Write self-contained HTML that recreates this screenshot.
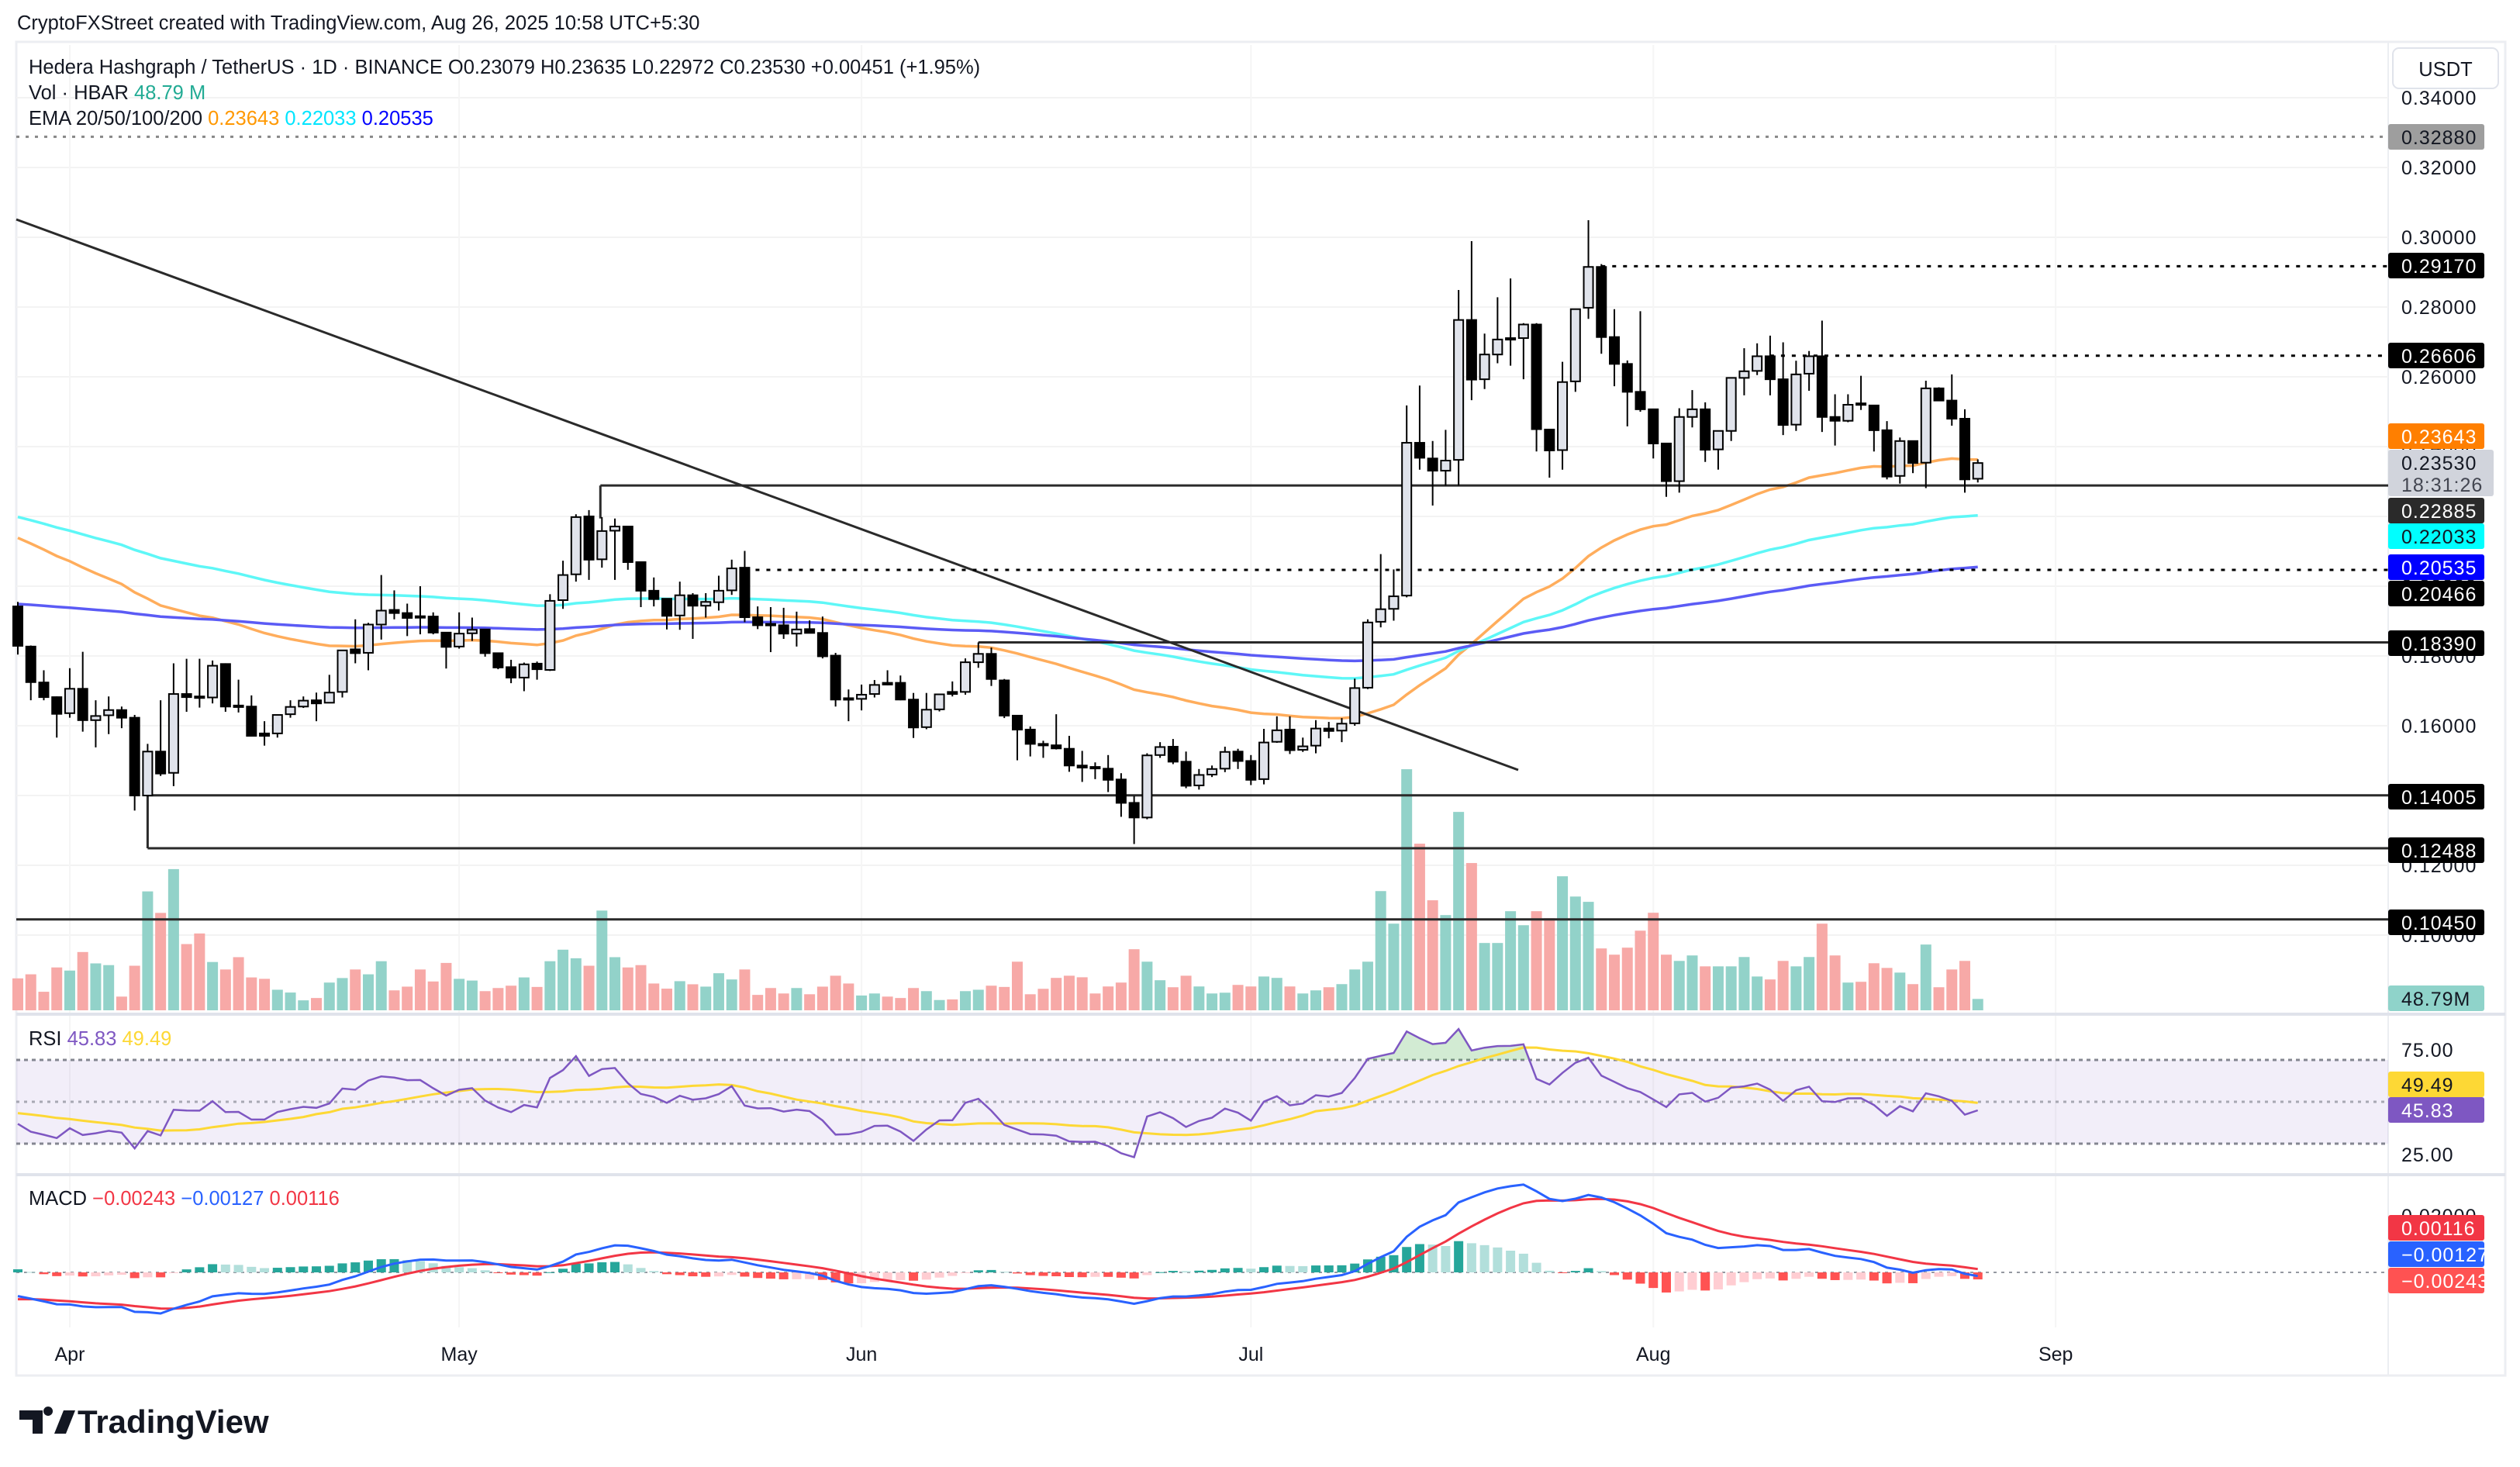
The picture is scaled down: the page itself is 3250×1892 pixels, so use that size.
<!DOCTYPE html>
<html><head><meta charset="utf-8"><title>HBAR/USDT chart</title>
<style>
html,body{margin:0;padding:0;background:#fff;}
svg{display:block;font-family:"Liberation Sans",sans-serif;}
.t{fill:#131722;font-size:25.5px;}
.ax{fill:#131722;font-size:25px;letter-spacing:1px;}
</style></head>
<body>
<svg id="chart" xmlns="http://www.w3.org/2000/svg" width="3250" height="1892" viewBox="0 0 3250 1892">
<rect x="0" y="0" width="3250" height="1892" fill="#ffffff"/>
<text x="22" y="38" class="t">CryptoFXStreet created with TradingView.com, Aug 26, 2025 10:58 UTC+5:30</text>
<rect x="21" y="54" width="3210" height="1720" fill="none" stroke="#eceef2" stroke-width="3"/>
<line x1="3080" y1="54" x2="3080" y2="1774" stroke="#eceef2" stroke-width="2"/>
<g id="grid"></g>
<g id="vol"></g>
<g id="ema"></g>
<g id="draw"></g>
<g id="candles"></g>
<g id="rsi"></g>
<g id="macd"></g>
<line x1="21" y1="1308" x2="3231" y2="1308" stroke="#e0e3eb" stroke-width="4"/>
<line x1="21" y1="1515" x2="3231" y2="1515" stroke="#e0e3eb" stroke-width="4"/>
<g id="axis"></g>
<g id="time"></g>

<g>
<text x="37" y="95" class="t">Hedera Hashgraph / TetherUS · 1D · BINANCE  O0.23079  H0.23635  L0.22972  C0.23530  +0.00451 (+1.95%)</text>
<text x="37" y="128" class="t">Vol · HBAR <tspan fill="#22ab94">48.79 M</tspan></text>
<text x="37" y="161" class="t">EMA 20/50/100/200 <tspan fill="#ff9800">0.23643</tspan> <tspan fill="#00e5ff">0.22033</tspan> <tspan fill="#0000ff">0.20535</tspan></text>
<text x="37" y="1348" class="t">RSI <tspan fill="#7e57c2">45.83</tspan> <tspan fill="#fdd835">49.49</tspan></text>
<text x="37" y="1554" class="t">MACD <tspan fill="#f23645">−0.00243</tspan> <tspan fill="#2962ff">−0.00127</tspan> <tspan fill="#f23645">0.00116</tspan></text>
</g>

<g>
<rect x="3086" y="62" width="136" height="52" rx="8" fill="#fff" stroke="#e0e3eb" stroke-width="2"/>
<text x="3154" y="98" text-anchor="middle" class="t">USDT</text>
</g>

<g id="tags">
<g transform="translate(0,-4)">
<g><rect x="3080" y="164" width="124" height="33" rx="3" fill="#9e9e9e"/><text x="3097" y="190" class="ax">0.32880</text></g>
<g><rect x="3080" y="330" width="124" height="33" rx="3" fill="#000"/><text x="3097" y="356" class="ax" style="fill:#fff">0.29170</text></g>
<g><rect x="3080" y="446" width="124" height="33" rx="3" fill="#000"/><text x="3097" y="472" class="ax" style="fill:#fff">0.26606</text></g>
<g><rect x="3080" y="550" width="124" height="33" rx="3" fill="#ff7f00"/><text x="3097" y="576" class="ax" style="fill:#fff">0.23643</text></g>
<g><rect x="3080" y="584" width="136" height="60" rx="3" fill="#d1d4dc"/><text x="3097" y="610" class="ax">0.23530</text><text x="3097" y="638" class="ax" style="fill:#434651">18:31:26</text></g>
<g><rect x="3080" y="646" width="124" height="33" rx="3" fill="#2a2a2a"/><text x="3097" y="672" class="ax" style="fill:#fff">0.22885</text></g>
<g><rect x="3080" y="679" width="124" height="33" rx="3" fill="#00ffff"/><text x="3097" y="705" class="ax">0.22033</text></g>
<g><rect x="3080" y="719" width="124" height="33" rx="3" fill="#0000ff"/><text x="3097" y="745" class="ax" style="fill:#fff">0.20535</text></g>
<g><rect x="3080" y="753" width="124" height="33" rx="3" fill="#000"/><text x="3097" y="779" class="ax" style="fill:#fff">0.20466</text></g>
<g><rect x="3080" y="817" width="124" height="33" rx="3" fill="#000"/><text x="3097" y="843" class="ax" style="fill:#fff">0.18390</text></g>
<g><rect x="3080" y="1015" width="124" height="33" rx="3" fill="#000"/><text x="3097" y="1041" class="ax" style="fill:#fff">0.14005</text></g>
<g><rect x="3080" y="1084" width="124" height="33" rx="3" fill="#000"/><text x="3097" y="1110" class="ax" style="fill:#fff">0.12488</text></g>
<g><rect x="3080" y="1177" width="124" height="33" rx="3" fill="#000"/><text x="3097" y="1203" class="ax" style="fill:#fff">0.10450</text></g>
<g><rect x="3080" y="1275" width="124" height="33" rx="3" fill="#8fd3ca"/><text x="3097" y="1301" class="ax">48.79M</text></g>
</g>
<g transform="translate(0,-6)">
<text x="3097" y="1369" class="ax">75.00</text>
<text x="3097" y="1504" class="ax">25.00</text>
<g><rect x="3080" y="1388" width="124" height="33" rx="3" fill="#fdd835"/><text x="3097" y="1414" class="ax">49.49</text></g>
<g><rect x="3080" y="1421" width="124" height="33" rx="3" fill="#7e57c2"/><text x="3097" y="1447" class="ax" style="fill:#fff">45.83</text></g>
</g>
<g transform="translate(0,-9)">
<text x="3097" y="1586" class="ax">0.02000</text>
<g><rect x="3080" y="1576" width="124" height="33" rx="3" fill="#f23645"/><text x="3097" y="1602" class="ax" style="fill:#fff">0.00116</text></g>
<g><rect x="3080" y="1610" width="124" height="33" rx="3" fill="#2962ff"/><text x="3097" y="1636" class="ax" style="fill:#fff">−0.00127</text></g>
<g><rect x="3080" y="1644" width="124" height="33" rx="3" fill="#ff5252"/><text x="3097" y="1670" class="ax" style="fill:#fff">−0.00243</text></g>
</g>
</g>

<g transform="translate(0,-8)">
<path d="M25 1827 h30 v30 h-13 v-18 h-17 z M62 1834 a6 6 0 1 1 0.1 0 z M70 1857 l12 -30 h15 l-12 30 z" fill="#131722"/>
<text x="100" y="1856" style="font-size:42px;font-weight:bold;fill:#131722">TradingView</text>
</g>
</svg>
<script>
const opens=[.1942,.1827,.1724,.1682,.1636,.1706,.1616,.1630,.1645,.1623,.1400,.1526,.1465,.1691,.1684,.1681,.1777,.1658,.1655,.1578,.1578,.1633,.1655,.1673,.1666,.1697,.1819,.1809,.1890,.1932,.1923,.1914,.1913,.1867,.1827,.1865,.1876,.1808,.1768,.1738,.1778,.1760,.1960,.2034,.2200,.2077,.2159,.2171,.2069,.1987,.1964,.1916,.1974,.1944,.1954,.1988,.2053,.1911,.1892,.1888,.1864,.1877,.1866,.1801,.1679,.1677,.1691,.1723,.1723,.1675,.1596,.1647,.1697,.1697,.1782,.1806,.1730,.1629,.1589,.1548,.1544,.1534,.1486,.1482,.1477,.1446,.1379,.1337,.1516,.1540,.1497,.1429,.1460,.1477,.1526,.1499,.1447,.1554,.1589,.1531,.1543,.1592,.1586,.1607,.1709,.1898,.1935,.1973,.2411,.2366,.2331,.2362,.2763,.2593,.2664,.2709,.2711,.2750,.2449,.2390,.2587,.2798,.2915,.2714,.2637,.2557,.2507,.2409,.2301,.2485,.2507,.2392,.2445,.2597,.2617,.2659,.2593,.2463,.2609,.2659,.2485,.2474,.2524,.2518,.2447,.2316,.2416,.2354,.2567,.2532,.2480,.23079];
const highs=[.1955,.1830,.1759,.1684,.1765,.1812,.1673,.1684,.1655,.1631,.1548,.1673,.1779,.1792,.1792,.1787,.1779,.1732,.1687,.1613,.1631,.1673,.1684,.1695,.1746,.1816,.1905,.1895,.2032,.1988,.1950,.2000,.1925,.1867,.1925,.1910,.1876,.1808,.1789,.1781,.1784,.1977,.2073,.2206,.2218,.2198,.2194,.2171,.2069,.2025,.1964,.2013,.1980,.1980,.2030,.2076,.2101,.1942,.1940,.1938,.1927,.1902,.1913,.1809,.1704,.1718,.1731,.1759,.1744,.1694,.1694,.1691,.1727,.1793,.1839,.1824,.1734,.1629,.1598,.1557,.1633,.1571,.1528,.1495,.1516,.1464,.1399,.1521,.1553,.1562,.1526,.1476,.1486,.1540,.1534,.1516,.1591,.1627,.1627,.1566,.1616,.1611,.1622,.1735,.1905,.2092,.2048,.2518,.2575,.2416,.2448,.2849,.2989,.2724,.2828,.2882,.2754,.2754,.2449,.2643,.2794,.3049,.2923,.2794,.2647,.2788,.2507,.2409,.2510,.2562,.2527,.2445,.2597,.2682,.2696,.2718,.2699,.2646,.2674,.2761,.2550,.2550,.2603,.2518,.2473,.2426,.2416,.2589,.2570,.2607,.2507,.23635];
const lows=[.1804,.1673,.1673,.1566,.1623,.1583,.1538,.1576,.1593,.1357,.1397,.1456,.1427,.1640,.1652,.1664,.1640,.1638,.1571,.1543,.1566,.1623,.1651,.1613,.1666,.1681,.1779,.1759,.1847,.1905,.1857,.1862,.1862,.1764,.1821,.1843,.1798,.1762,.1722,.1699,.1732,.1757,.1935,.2013,.2018,.2053,.2018,.2047,.1940,.1942,.1876,.1875,.1849,.1910,.1930,.1975,.1897,.1877,.1811,.1849,.1827,.1865,.1793,.1655,.1613,.1644,.1681,.1716,.1673,.1565,.1590,.1641,.1684,.1689,.1766,.1714,.1622,.1501,.1512,.1508,.1532,.1468,.1439,.1447,.1410,.1339,.1261,.1332,.1508,.1490,.1421,.1417,.1453,.1467,.1476,.1430,.1432,.1551,.1519,.1525,.1521,.1564,.1553,.1600,.1705,.1882,.1901,.1968,.2334,.2231,.2288,.2288,.2533,.2565,.2639,.2632,.2593,.2386,.2311,.2334,.2557,.2766,.2666,.2573,.2458,.2500,.2366,.2256,.2268,.2455,.2356,.2334,.2416,.2547,.2605,.2547,.2433,.2445,.2560,.2442,.2403,.2470,.2505,.2386,.2306,.2294,.2324,.2281,.2530,.2460,.2268,.22972];
const closes=[.1829,.1725,.1682,.1634,.1706,.1616,.1628,.1645,.1623,.1400,.1526,.1463,.1691,.1682,.1681,.1772,.1655,.1657,.1571,.1571,.1631,.1654,.1672,.1664,.1695,.1816,.1808,.1890,.1930,.1923,.1909,.1910,.1867,.1826,.1864,.1875,.1808,.1767,.1738,.1776,.1762,.1958,.2032,.2198,.2076,.2158,.2171,.2069,.1987,.1963,.1915,.1974,.1944,.1955,.1987,.2051,.1911,.1888,.1890,.1864,.1876,.1866,.1799,.1675,.1677,.1689,.1717,.1718,.1675,.1595,.1646,.1690,.1691,.1782,.1806,.1734,.1629,.1589,.1548,.1545,.1535,.1486,.1480,.1481,.1445,.1379,.1337,.1515,.1539,.1497,.1428,.1459,.1476,.1525,.1499,.1445,.1552,.1587,.1530,.1541,.1592,.1585,.1606,.1708,.1896,.1934,.1971,.2411,.2368,.2331,.2360,.2763,.2592,.2664,.2707,.2711,.2750,.2450,.2389,.2585,.2794,.2915,.2714,.2637,.2557,.2507,.2409,.2301,.2485,.2507,.2391,.2445,.2597,.2616,.2659,.2593,.2462,.2607,.2659,.2485,.2474,.2520,.2521,.2447,.2314,.2416,.2353,.2567,.2532,.2480,.2306,.2353];
const volumes=[205,231,119,275,255,374,301,290,88,286,763,625,906,425,493,310,262,341,211,202,132,114,64,79,178,207,262,231,315,128,152,262,185,304,202,191,123,143,158,211,150,315,389,334,286,640,341,275,290,172,139,187,167,152,238,198,262,99,143,108,143,103,152,222,172,95,108,88,79,143,123,66,70,123,132,158,150,312,103,138,208,222,212,108,153,178,392,312,193,148,222,153,108,113,163,153,217,208,153,108,128,148,168,262,312,765,556,1547,1069,706,611,1273,945,432,432,636,546,636,591,860,730,696,397,357,402,511,626,357,317,352,282,282,282,342,217,198,317,282,342,556,352,178,183,302,272,242,168,422,148,262,317,73];
const priceTicks=[0.34,0.32,0.30,0.28,0.26,0.24,0.22,0.20,0.18,0.16,0.14,0.12,0.10];
const monthLabels=["Apr","May","Jun","Jul","Aug","Sep"];
const monthIndex=[4,34,65,95,126,157];
const levels=[0.3288,0.2917,0.26606,0.22885,0.20466,0.1839,0.14005,0.12488,0.1045];
const emaPeriods=[50,100,200];
const emaSeeds=[0.2151,0.2206,0.1950];

const NS="http://www.w3.org/2000/svg";
function mk(parent,tag,attrs){const e=document.createElementNS(NS,tag);for(const k in attrs)e.setAttribute(k,attrs[k]);parent.appendChild(e);return e;}
const X0=23,DX=16.74,L=21,R=3080;
function xOf(i){return X0+i*DX;}
function yP(p){return 126+(0.34-p)*4500;}
const VBASE=1303,VK=0.201;
function yRSI(v){return 1421-(v-50)*2.7;}
function yM(v){return 1641-v*3750;}
const G=id=>document.getElementById(id);

const grid=G('grid');
priceTicks.forEach(p=>{const l=mk(grid,'line',{x1:L,x2:R,y1:yP(p),y2:yP(p),stroke:'#f3f3f3','stroke-width':2});

});
monthIndex.forEach(i=>{const l=mk(grid,'line',{x1:xOf(i),x2:xOf(i),y1:58,y2:1712,stroke:'#f5f5f5','stroke-width':2});

});

const vol=G('vol');
volumes.forEach((v,i)=>{const up=closes[i]>=opens[i];const h=v*VK;
const r=mk(vol,'rect',{x:xOf(i)-7,y:VBASE-h,width:14,height:h,fill:up?'#92d2c9':'#f7a9a7'});

});

const ema=G('ema');const emaColors=['#ffad5c','#5ef7f7','#5b5bf5'];
emaPeriods.forEach((n,k)=>{const a=2/(n+1);let e=emaSeeds[k];const pts=[];
closes.forEach((c,i)=>{e=a*c+(1-a)*e;pts.push(xOf(i).toFixed(1)+','+yP(e).toFixed(1));});
const pl=mk(ema,'polyline',{points:pts.join(' '),fill:'none',stroke:emaColors[k],'stroke-width':3.5});

});

const dr=G('draw');
function dline(x1,y1,x2,y2,name,dash,col){const l=mk(dr,'line',{x1,y1,x2,y2,stroke:col||'#2a2a2a','stroke-width':3});if(dash)l.setAttribute('stroke-dasharray',dash);

return l;}
dline(L,283,1958,993,'downtrend-line');
dline(L,yP(levels[0]),R,yP(levels[0]),'level-032880','4 8','#888');
dline(xOf(122),yP(levels[1]),R,yP(levels[1]),'level-029170','5 9','#000');
dline(xOf(135),yP(levels[2]),R,yP(levels[2]),'level-026606','5 9','#000');
dline(xOf(45)-2,yP(levels[3]),R,yP(levels[3]),'level-022885');
dline(xOf(45)-2,yP(levels[3]),xOf(45)-2,yP(highs[46]),'level-022885-tick');
dline(xOf(56),yP(levels[4]),R,yP(levels[4]),'level-020466','5 9','#000');
dline(xOf(74),yP(levels[5]),R,yP(levels[5]),'level-018390');
dline(xOf(74),yP(levels[5]),xOf(74),yP(highs[74]),'level-018390-tick');
dline(xOf(10),yP(levels[6]),R,yP(levels[6]),'level-014005');
dline(xOf(10),yP(levels[7]),R,yP(levels[7]),'level-012488');
dline(xOf(10),yP(levels[6]),xOf(10),yP(levels[7]),'level-012488-tick');
dline(L,yP(levels[8]),R,yP(levels[8]),'level-010450');

const cg=G('candles');
opens.forEach((o,i)=>{const c=closes[i],x=xOf(i),up=c>=o;
const w=mk(cg,'line',{x1:x,x2:x,y1:yP(highs[i]),y2:yP(lows[i]),stroke:'#000','stroke-width':2});


const top=yP(Math.max(o,c)),bh=Math.max(2,Math.abs(yP(o)-yP(c)));
const b=mk(cg,'rect',{x:x-6,y:top,width:12,height:bh,fill:up?'#e0e3eb':'#000',stroke:'#000','stroke-width':2});

});

const rg=G('rsi');
const band=mk(rg,'rect',{x:L,y:yRSI(70),width:R-L,height:yRSI(30)-yRSI(70),fill:'rgba(126,87,194,0.1)'});


[70,50,30].forEach(v=>{const l=mk(rg,'line',{x1:L,x2:R,y1:yRSI(v),y2:yRSI(v),stroke:'#787b86','stroke-width':3,'stroke-dasharray':v==50?'4 6':'5 5',opacity:v==50?0.6:0.9});

});
let ag=0.0030,al=0.0046;const rsi=[];
closes.forEach((c,i)=>{if(i>0){const d=c-closes[i-1];ag=(ag*13+Math.max(d,0))/14;al=(al*13+Math.max(-d,0))/14;}rsi.push(100-100/(1+ag/al));});
const rma=rsi.map((v,i)=>{let s=0,n=0;for(let j=i-13;j<=i;j++){s+=j>=0?rsi[j]:45;n++;}return s/n;});
const rp=rsi.map((v,i)=>xOf(i).toFixed(1)+','+yRSI(v).toFixed(1)).join(' ');
const ob=mk(rg,'clipPath',{id:'obclip'});mk(ob,'rect',{x:L,y:1300,width:R-L,height:yRSI(70)-1300});
const obf=mk(rg,'polygon',{points:xOf(0)+','+yRSI(70)+' '+rp+' '+xOf(151)+','+yRSI(70),fill:'rgba(76,175,80,0.25)','clip-path':'url(#obclip)'});


const rm=mk(rg,'polyline',{points:rma.map((v,i)=>xOf(i).toFixed(1)+','+yRSI(v).toFixed(1)).join(' '),fill:'none',stroke:'#fdd835','stroke-width':3});


const rl=mk(rg,'polyline',{points:rp,fill:'none',stroke:'#7e57c2','stroke-width':2.5});



const mg=G('macd');
const z=mk(mg,'line',{x1:L,x2:R,y1:yM(0),y2:yM(0),stroke:'#9598a1','stroke-width':2,'stroke-dasharray':'4 6'});


let e12=0.1925,e26=0.2005,sig=-0.0095;const mac=[],sg=[];
closes.forEach(c=>{e12=c*2/13+e12*11/13;e26=c*2/27+e26*25/27;const m=e12-e26;sig=m*0.2+sig*0.8;mac.push(m);sg.push(sig);});
mac.forEach((m,i)=>{const h=m-sg[i],ph=i>0?mac[i-1]-sg[i-1]:h;let col;
if(h>=0)col=h>=ph?'#26a69a':'#b2dfdb';else col=h<ph?'#ff5252':'#ffcdd2';
const y1=yM(Math.max(h,0)),y2=yM(Math.min(h,0));
const r=mk(mg,'rect',{x:xOf(i)-6,y:y1,width:12,height:Math.max(1,y2-y1),fill:col});

});
const sl=mk(mg,'polyline',{points:sg.map((v,i)=>xOf(i).toFixed(1)+','+yM(v).toFixed(1)).join(' '),fill:'none',stroke:'#f23645','stroke-width':3});


const ml=mk(mg,'polyline',{points:mac.map((v,i)=>xOf(i).toFixed(1)+','+yM(v).toFixed(1)).join(' '),fill:'none',stroke:'#2962ff','stroke-width':3});



const ax=G('axis');
priceTicks.forEach(p=>{const t=mk(ax,'text',{x:3097,y:yP(p)+9,class:'ax'});t.textContent=p.toFixed(5);

});
const ta=G('time');
monthLabels.forEach((m,k)=>{const t=mk(ta,'text',{x:xOf(monthIndex[k]),y:1755,'text-anchor':'middle',class:'t',style:'font-size:25px'});t.textContent=m;

});
document.getElementById('chart').appendChild(G('tags'));
</script>
</body></html>
